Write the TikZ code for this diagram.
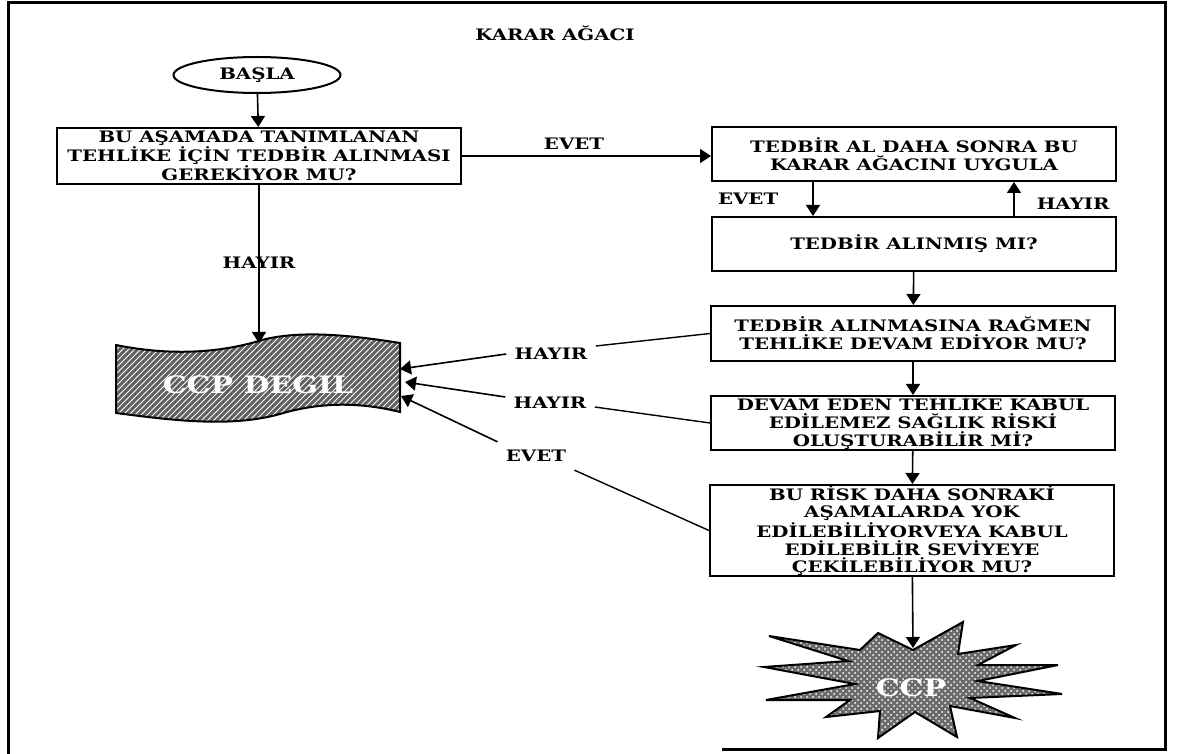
\documentclass[tikz,border=0pt]{standalone}
\usepackage{fontspec}
\newfontfamily\cpfont{DejaVu Serif}[FakeStretch=1.25]
\usetikzlibrary{arrows.meta,shapes,patterns}
\tikzset{
  qbox/.style={draw,line width=1pt,minimum width=202pt,inner sep=0pt,align=center,
    font=\cpfont\bfseries\fontsize{7.9}{9}\selectfont},
  lbl/.style={inner sep=4pt,font=\cpfont\bfseries\fontsize{7.9}{9}\selectfont},
  arrowline/.style={line width=0.8pt,-{Triangle[width=7pt,length=5.5pt]}},
  plainline/.style={line width=0.7pt},
  frameline/.style={line width=1.5pt}
}
\begin{document}
\begin{tikzpicture}[x=0.5pt,y=-0.5pt]
            \useasboundingbox (0,0) rectangle (1179,754);
            \draw[frameline] (722,749)--(1165,749)--(1165,3)--(8,3)--(8,754);
            \node[lbl] (title) at (555,33) {KARAR AĞACI};
            \node[draw,ellipse,line width=1pt,minimum width=83.5pt,minimum height=18pt,inner sep=0pt,
              font=\cpfont\bfseries\fontsize{7.9}{9}\selectfont] (basla) at (257,75) {BAŞLA};
            \node[qbox,minimum height=28pt,font=\cpfont\bfseries\fontsize{7.9}{9.5}\selectfont] (tanim) at (259,156) {BU AŞAMADA TANIMLANAN\\TEHLİKE İÇİN TEDBİR ALINMASI\\GEREKİYOR MU?};
            \node[qbox,minimum height=27pt] (tedbiral) at (914,154) {TEDBİR AL DAHA SONRA BU\\KARAR AĞACINI UYGULA};
            \node[qbox,minimum height=27pt] (alinmis) at (914,244) {TEDBİR ALINMIŞ MI?};
            \node[qbox,minimum height=27.5pt] (devam) at (913,333.5) {TEDBİR ALINMASINA RAĞMEN\\TEHLİKE DEVAM EDİYOR MU?};
            \node[qbox,minimum height=27pt] (risk) at (913,423) {DEVAM EDEN TEHLİKE KABUL\\EDİLEMEZ SAĞLIK RİSKİ\\OLUŞTURABİLİR Mİ?};
            \node[qbox,minimum height=45.5pt,font=\cpfont\bfseries\fontsize{7.9}{8.8}\selectfont] (sonraki) at (912,530.5) {BU RİSK DAHA SONRAKİ\\AŞAMALARDA YOK\\EDİLEBİLİYORVEYA KABUL\\EDİLEBİLİR SEVİYEYE\\ÇEKİLEBİLİYOR MU?};
            % CCP DEGIL flag
            \draw[line width=1pt,preaction={fill=black!62},pattern=north east lines,pattern color=white!85]
              (116,345) .. controls (180,358) and (230,350) .. (262,340) .. controls (300,330) and (350,335) .. (400,343)
              -- (400,412) .. controls (360,402) and (320,402) .. (280,414) .. controls (230,428) and (170,420) .. (116,413) -- cycle;
            \node[text=white,font=\cpfont\bfseries\fontsize{12}{14}\selectfont] (ccpdegil) at (258,385) {CCP DEGIL};
            \coordinate (ccpdtop) at (259,343);
            \coordinate (ccpdA) at (400,369);
            \coordinate (ccpdB) at (405,382);
            \coordinate (ccpdC) at (401,396);
            % CCP star
            \draw[line width=1pt,preaction={fill=black!58},pattern=crosshatch dots,pattern color=white!85]
              (878,633)--(913,650)--(963,622)--(958,654)--(1016,645)--(978,665)--(1058,665)--(978,681)
              --(1062,694)--(970,698)--(1015,718)--(950,706)--(957,737)--(915,712)--(878,738)--(880,711)
              --(826,717)--(850,700)--(766,700)--(855,684)--(764,667)--(848,661)--(769,636)--(860,650)--cycle;
            \node[text=white,font=\cpfont\bfseries\fontsize{12}{14}\selectfont] (ccp) at (911,688) {CCP};
            \coordinate (ccptop) at (913,648);
            % connectors
            \draw[arrowline] (basla)--(tanim);
            \draw[arrowline] (tanim.east)--node[lbl,above=-1pt,pos=0.45]{EVET}(tanim.east-|tedbiral.west);
            \draw[arrowline] ([xshift=-50.5pt]tedbiral.south)--node[lbl,left=13pt]{EVET}([xshift=-50.5pt]alinmis.north);
            \draw[arrowline] ([xshift=50pt]alinmis.north)--node[lbl,right=7pt,pos=0.35]{HAYIR}([xshift=50pt]tedbiral.south);
            \draw[arrowline] (alinmis)--(devam);
            \draw[arrowline] (devam)--(risk);
            \draw[arrowline] (risk)--(sonraki);
            \draw[arrowline] (sonraki)--(ccptop);
            \draw[arrowline] (tanim.south)--node[lbl,pos=0.49]{HAYIR}(tanim.south|-ccpdtop);
            \node[lbl] (hayirA) at (551,354) {HAYIR};
            \node[lbl] (hayirB) at (550,403) {HAYIR};
            \node[lbl] (evetC) at (536,456) {EVET};
            \draw[plainline] (devam.west)--([yshift=4pt]hayirA.east);
            \draw[arrowline] (hayirA.west)--(ccpdA);
            \draw[plainline] (risk.west)--([yshift=-2pt]hayirB.east);
            \draw[arrowline] ([yshift=3pt]hayirB.west)--(ccpdB);
            \draw[plainline] (sonraki.west)--(evetC.south east);
            \draw[arrowline] (evetC.north west)--(ccpdC);
\end{tikzpicture}
\end{document}
